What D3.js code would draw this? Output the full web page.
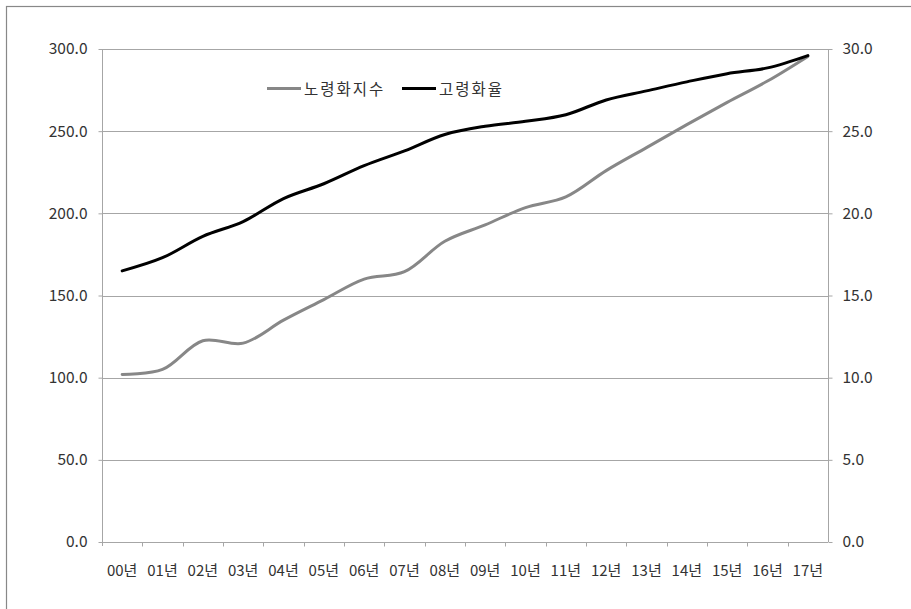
<!DOCTYPE html>
<html>
<head>
<meta charset="utf-8">
<script src="https://cdn.jsdelivr.net/npm/d3@7"></script>
<style>
  body { margin: 0; background: #fff; }
  text { font-family: "Noto Sans CJK KR", "Noto Sans", sans-serif; fill: #333; }
</style>
</head>
<body>
<svg id="chart"></svg>
<script>
"use strict";
// 연도 라벨
const years = ["00년", "01년", "02년", "03년", "04년", "05년", "06년", "07년", "08년",
    "09년", "10년", "11년", "12년", "13년", "14년", "15년", "16년", "17년"];
// 노령화지수 (left axis)
const agingIndex = [102.0, 105.0, 122.5, 121.0, 135.0, 147.5, 160.0, 164.5, 183.0,
    193.0, 203.5, 210.0, 226.0, 240.0, 254.0, 267.5, 280.5, 295.5];
// 고령화율 (right axis)
const agingRate = [16.5, 17.3, 18.6, 19.5, 20.9, 21.8, 22.9, 23.8, 24.8,
    25.3, 25.6, 26.0, 26.9, 27.45, 28.0, 28.5, 28.85, 29.6];
const leftTicks = [0, 50, 100, 150, 200, 250, 300];
const rightTicks = [0, 5, 10, 15, 20, 25, 30];
const seriesNames = ["노령화지수", "고령화율"];

const width = 911, height = 609;
const m = {left: 102, right: 83, top: 49, bottom: 67};

const svg = d3.select("#chart").attr("width", width).attr("height", height);

// outer frame
svg.append("rect")
    .attr("x", 6.5).attr("y", 6.5)
    .attr("width", 930).attr("height", 630)
    .attr("fill", "none").attr("stroke", "#888").attr("stroke-width", 1.2);

let x = d3.scaleBand().domain(years).range([m.left, width - m.right]);
let yL = d3.scaleLinear().domain([0, 300]).range([height - m.bottom, m.top]);
let yR = d3.scaleLinear().domain([0, 30]).range([height - m.bottom, m.top]);

let g = svg.append("g");

// gridlines
g.selectAll("line.grid")
    .data(leftTicks.slice(1))
    .join("line")
    .attr("class", "grid")
    .attr("x1", m.left).attr("x2", width - m.right)
    .attr("y1", d => Math.round(yL(d)) + 0.5)
    .attr("y2", d => Math.round(yL(d)) + 0.5)
    .attr("stroke", "#a6a6a6").attr("stroke-width", 1);

// axes
let leftAxis = d3.axisLeft(yL).tickValues(leftTicks).tickFormat(d3.format(".1f")).tickSize(4).tickPadding(11);
let rightAxis = d3.axisRight(yR).tickValues(rightTicks).tickFormat(d3.format(".1f")).tickSize(4).tickPadding(10);
let bottomAxis = d3.axisBottom(x).tickSize(0).tickPadding(23);

function styleAxis(sel) {
    sel.select(".domain").attr("stroke", "#a6a6a6");
    sel.selectAll(".tick line").attr("stroke", "#a6a6a6");
    sel.selectAll(".tick text").style("font-size", "15.5px").attr("fill", "#333");
}

svg.append("g")
    .attr("transform", `translate(${m.left + 0.5},0)`)
    .call(leftAxis).call(styleAxis)
    .call(s => s.select(".domain").remove())
    .call(s => s.append("line").attr("y1", m.top).attr("y2", height - m.bottom + 4).attr("stroke", "#a6a6a6"));

svg.append("g")
    .attr("transform", `translate(${width - m.right + 0.5},0)`)
    .call(rightAxis).call(styleAxis)
    .call(s => s.select(".domain").remove())
    .call(s => s.append("line").attr("y1", m.top).attr("y2", height - m.bottom).attr("stroke", "#a6a6a6"));

let bx = svg.append("g")
    .attr("transform", `translate(0,${height - m.bottom + 0.5})`)
    .call(bottomAxis).call(styleAxis);
bx.select(".domain").remove();
bx.selectAll(".tick text").style("font-size", "15px");
bx.append("line").attr("x1", m.left).attr("x2", width - m.right).attr("stroke", "#a6a6a6");
// category boundary ticks
bx.selectAll("line.sep")
    .data(years.slice(1))
    .join("line")
    .attr("class", "sep")
    .attr("x1", d => Math.round(x(d)) + 0.5).attr("x2", d => Math.round(x(d)) + 0.5)
    .attr("y1", 0).attr("y2", 4)
    .attr("stroke", "#a6a6a6");

// lines
let cx = d => x(d) + x.bandwidth() / 2;
let curve = d3.curveCatmullRom.alpha(0.5);

let lineL = d3.line().x((d, i) => cx(years[i])).y(d => yL(d)).curve(curve);
let lineR = d3.line().x((d, i) => cx(years[i])).y(d => yR(d)).curve(curve);

svg.append("path")
    .datum(agingIndex)
    .attr("d", lineL)
    .attr("fill", "none").attr("stroke", "#878787").attr("stroke-width", 3)
    .attr("stroke-linecap", "round");

svg.append("path")
    .datum(agingRate)
    .attr("d", lineR)
    .attr("fill", "none").attr("stroke", "#000").attr("stroke-width", 3)
    .attr("stroke-linecap", "round");

// legend
let legend = svg.append("g");
let items = [
    {name: seriesNames[0], color: "#878787", x: 267},
    {name: seriesNames[1], color: "#000", x: 402}
];
items.forEach(it => {
    legend.append("line")
        .attr("x1", it.x).attr("x2", it.x + 34)
        .attr("y1", 88.5).attr("y2", 88.5)
        .attr("stroke", it.color).attr("stroke-width", 3);
    legend.append("text")
        .attr("x", it.x + 37).attr("y", 94.5)
        .style("font-size", "15.5px")
        .style("letter-spacing", "2px")
        .text(it.name);
});
</script>
</body>
</html>
